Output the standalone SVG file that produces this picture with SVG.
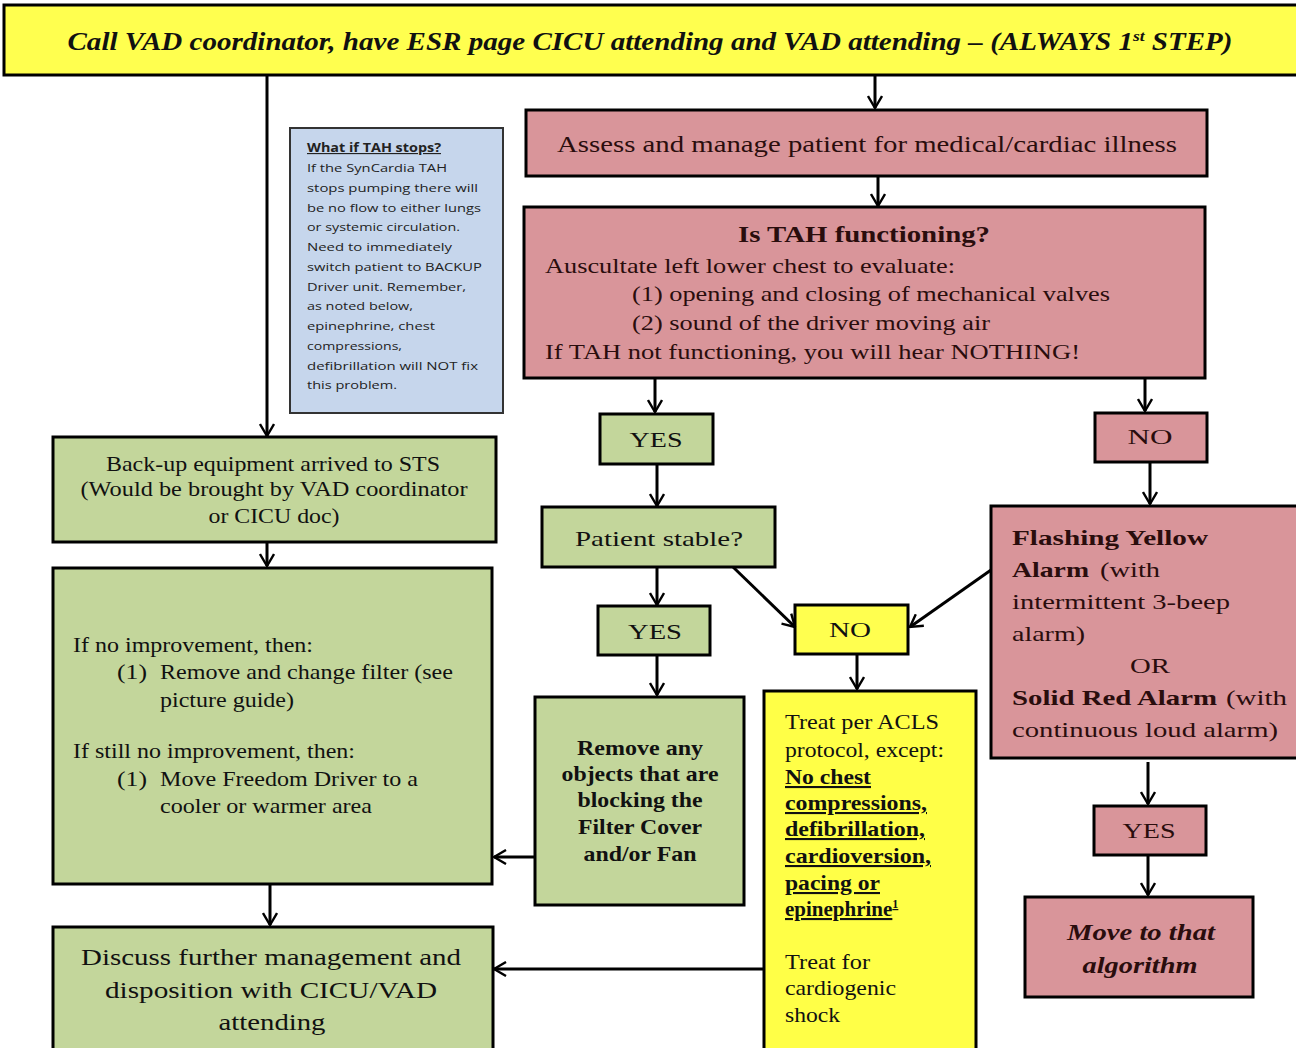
<svg xmlns="http://www.w3.org/2000/svg" width="1296" height="1048" viewBox="0 0 1296 1048">
  <style>
    .box { stroke: #000; stroke-width: 3; }
    .yel { fill: #ffff4f; }
    .pink { fill: #d9959a; }
    .green { fill: #c3d69b; }
    .note { fill: #c6d6ec; stroke: #333; stroke-width: 2; }
    .t { font-family: "Liberation Serif", "Times New Roman", serif; fill: #111; }
    .tp { font-family: "Liberation Serif", "Times New Roman", serif; fill: #2a0d0d; }
    .n { font-family: "Open Sans", "Liberation Sans", sans-serif; font-size: 11.5px; fill: #222; }
    .c { text-anchor: middle; }
    .b { font-weight: bold; }
    .u { text-decoration: underline; }
    .conn { fill: none; stroke: #000; stroke-width: 3; }
  </style>
  <defs>
    <marker id="arr" viewBox="0 0 14 16" refX="13" refY="8" markerWidth="14" markerHeight="16" orient="auto" markerUnits="userSpaceOnUse">
      <path d="M1,1 L13,8 L1,15" fill="none" stroke="#000" stroke-width="2.4"/>
    </marker>
  </defs>
  <rect width="1296" height="1048" fill="#fff"/>

  <!-- first step banner -->
  <g id="call-vad">
    <rect class="box yel" x="4" y="5" width="1300" height="70"/>
    <text class="t b" x="650" y="50" text-anchor="middle" font-style="italic" font-size="25" textLength="1165" lengthAdjust="spacingAndGlyphs">Call VAD coordinator, have ESR page CICU attending and VAD attending – (ALWAYS 1<tspan font-size="15" dy="-9">st</tspan><tspan dy="9"> STEP)</tspan></text>
  </g>

  <!-- side note -->
  <g id="note">
    <rect class="note" x="290" y="128" width="213" height="285"/>
    <text class="n b u" x="307" y="152" textLength="134" lengthAdjust="spacingAndGlyphs">What if TAH stops?</text>
    <text class="n" x="307" y="172" textLength="140" lengthAdjust="spacingAndGlyphs">If the SynCardia TAH</text>
    <text class="n" x="307" y="192" textLength="171" lengthAdjust="spacingAndGlyphs">stops pumping there will</text>
    <text class="n" x="307" y="212" textLength="174" lengthAdjust="spacingAndGlyphs">be no flow to either lungs</text>
    <text class="n" x="307" y="231" textLength="153" lengthAdjust="spacingAndGlyphs">or systemic circulation.</text>
    <text class="n" x="307" y="251" textLength="145" lengthAdjust="spacingAndGlyphs">Need to immediately</text>
    <text class="n" x="307" y="271" textLength="175" lengthAdjust="spacingAndGlyphs">switch patient to BACKUP</text>
    <text class="n" x="307" y="291" textLength="159" lengthAdjust="spacingAndGlyphs">Driver unit. Remember,</text>
    <text class="n" x="307" y="310" textLength="106" lengthAdjust="spacingAndGlyphs">as noted below,</text>
    <text class="n" x="307" y="330" textLength="128" lengthAdjust="spacingAndGlyphs">epinephrine, chest</text>
    <text class="n" x="307" y="350" textLength="95" lengthAdjust="spacingAndGlyphs">compressions,</text>
    <text class="n" x="307" y="370" textLength="171" lengthAdjust="spacingAndGlyphs">defibrillation will NOT fix</text>
    <text class="n" x="307" y="389" textLength="90" lengthAdjust="spacingAndGlyphs">this problem.</text>
  </g>

  <g id="assess">
    <rect class="box pink" x="526" y="110" width="681" height="66"/>
    <text class="tp c" x="867" y="152" font-size="23" textLength="620" lengthAdjust="spacingAndGlyphs">Assess and manage patient for medical/cardiac illness</text>
  </g>

  <g id="tah-check">
    <rect class="box pink" x="524" y="207" width="681" height="171"/>
    <text class="tp c b" x="864" y="242" font-size="24" textLength="252" lengthAdjust="spacingAndGlyphs">Is TAH functioning?</text>
    <text class="tp" x="545" y="273" font-size="21" textLength="410" lengthAdjust="spacingAndGlyphs">Auscultate left lower chest to evaluate:</text>
    <text class="tp" x="632" y="301" font-size="21" textLength="478" lengthAdjust="spacingAndGlyphs">(1) opening and closing of mechanical valves</text>
    <text class="tp" x="632" y="330" font-size="21" textLength="358" lengthAdjust="spacingAndGlyphs">(2) sound of the driver moving air</text>
    <text class="tp" x="545" y="359" font-size="21" textLength="535" lengthAdjust="spacingAndGlyphs">If TAH not functioning, you will hear NOTHING!</text>
  </g>

  <g id="yes-functioning">
    <rect class="box green" x="600" y="414" width="113" height="50"/>
    <text class="t c" x="656" y="447" font-size="22" textLength="53" lengthAdjust="spacingAndGlyphs">YES</text>
  </g>

  <g id="no-functioning">
    <rect class="box pink" x="1095" y="413" width="112" height="49"/>
    <text class="tp c" x="1150" y="444" font-size="22" textLength="45" lengthAdjust="spacingAndGlyphs">NO</text>
  </g>

  <g id="patient-stable">
    <rect class="box green" x="542" y="507" width="233" height="60"/>
    <text class="t c" x="659" y="546" font-size="22" textLength="168" lengthAdjust="spacingAndGlyphs">Patient stable?</text>
  </g>

  <g id="yes-stable">
    <rect class="box green" x="598" y="606" width="112" height="49"/>
    <text class="t c" x="655" y="639" font-size="22" textLength="54" lengthAdjust="spacingAndGlyphs">YES</text>
  </g>

  <g id="no-stable">
    <rect class="box yel" x="795" y="605" width="113" height="49"/>
    <text class="t c" x="850" y="637" font-size="22" textLength="42" lengthAdjust="spacingAndGlyphs">NO</text>
  </g>

  <g id="remove-objects">
    <rect class="box green" x="535" y="697" width="209" height="208"/>
    <text class="t c b" x="640" y="755" font-size="21" textLength="126" lengthAdjust="spacingAndGlyphs">Remove any</text>
    <text class="t c b" x="640" y="781" font-size="21" textLength="157" lengthAdjust="spacingAndGlyphs">objects that are</text>
    <text class="t c b" x="640" y="807" font-size="21" textLength="125" lengthAdjust="spacingAndGlyphs">blocking the</text>
    <text class="t c b" x="640" y="834" font-size="21" textLength="124" lengthAdjust="spacingAndGlyphs">Filter Cover</text>
    <text class="t c b" x="640" y="861" font-size="21" textLength="113" lengthAdjust="spacingAndGlyphs">and/or Fan</text>
  </g>

  <g id="treat-acls">
    <rect class="box" fill="#ffff47" x="764" y="691" width="212" height="360"/>
    <text class="t" x="785" y="729" font-size="21" textLength="154" lengthAdjust="spacingAndGlyphs">Treat per ACLS</text>
    <text class="t" x="785" y="757" font-size="21" textLength="159" lengthAdjust="spacingAndGlyphs">protocol, except:</text>
    <text class="t b u" x="785" y="784" font-size="21" textLength="86" lengthAdjust="spacingAndGlyphs">No chest</text>
    <text class="t b u" x="785" y="810" font-size="21" textLength="142" lengthAdjust="spacingAndGlyphs">compressions,</text>
    <text class="t b u" x="785" y="836" font-size="21" textLength="140" lengthAdjust="spacingAndGlyphs">defibrillation,</text>
    <text class="t b u" x="785" y="863" font-size="21" textLength="146" lengthAdjust="spacingAndGlyphs">cardioversion,</text>
    <text class="t b u" x="785" y="890" font-size="21" textLength="95" lengthAdjust="spacingAndGlyphs">pacing or</text>
    <text class="t b u" x="785" y="916" font-size="21">epinephrine<tspan font-size="12" dy="-8">1</tspan></text>
    <text class="t" x="785" y="969" font-size="21" textLength="85" lengthAdjust="spacingAndGlyphs">Treat for</text>
    <text class="t" x="785" y="995" font-size="21" textLength="111" lengthAdjust="spacingAndGlyphs">cardiogenic</text>
    <text class="t" x="785" y="1022" font-size="21" textLength="55" lengthAdjust="spacingAndGlyphs">shock</text>
  </g>

  <g id="alarm">
    <rect class="box pink" x="991" y="506" width="310" height="252"/>
    <text class="tp b" x="1012" y="545" font-size="22" textLength="196" lengthAdjust="spacingAndGlyphs">Flashing Yellow</text>
    <text class="tp b" x="1012" y="577" font-size="22" textLength="77" lengthAdjust="spacingAndGlyphs">Alarm</text>
    <text class="tp" x="1100" y="577" font-size="22" textLength="60" lengthAdjust="spacingAndGlyphs">(with</text>
    <text class="tp" x="1012" y="609" font-size="22" textLength="218" lengthAdjust="spacingAndGlyphs">intermittent 3-beep</text>
    <text class="tp" x="1012" y="641" font-size="22" textLength="73" lengthAdjust="spacingAndGlyphs">alarm)</text>
    <text class="tp c" x="1150" y="673" font-size="22" textLength="40" lengthAdjust="spacingAndGlyphs">OR</text>
    <text class="tp b" x="1012" y="705" font-size="22" textLength="205" lengthAdjust="spacingAndGlyphs">Solid Red Alarm</text>
    <text class="tp" x="1226" y="705" font-size="22" textLength="61" lengthAdjust="spacingAndGlyphs">(with</text>
    <text class="tp" x="1012" y="737" font-size="22" textLength="266" lengthAdjust="spacingAndGlyphs">continuous loud alarm)</text>
  </g>

  <g id="yes-alarm">
    <rect class="box pink" x="1094" y="806" width="112" height="49"/>
    <text class="tp c" x="1149" y="838" font-size="22" textLength="53" lengthAdjust="spacingAndGlyphs">YES</text>
  </g>

  <g id="move-algorithm">
    <rect class="box pink" x="1025" y="897" width="228" height="100"/>
    <text class="tp c b" x="1141" y="940" font-size="23" font-style="italic" textLength="148" lengthAdjust="spacingAndGlyphs">Move to that</text>
    <text class="tp c b" x="1140" y="973" font-size="23" font-style="italic" textLength="115" lengthAdjust="spacingAndGlyphs">algorithm</text>
  </g>

  <g id="backup-equipment">
    <rect class="box green" x="53" y="437" width="443" height="105"/>
    <text class="t c" x="273" y="471" font-size="21" textLength="334" lengthAdjust="spacingAndGlyphs">Back-up equipment arrived to STS</text>
    <text class="t c" x="274" y="496" font-size="21" textLength="387" lengthAdjust="spacingAndGlyphs">(Would be brought by VAD coordinator</text>
    <text class="t c" x="274" y="523" font-size="21" textLength="131" lengthAdjust="spacingAndGlyphs">or CICU doc)</text>
  </g>

  <g id="filter-driver">
    <rect class="box green" x="53" y="568" width="439" height="316"/>
    <text class="t" x="73" y="652" font-size="21" textLength="240" lengthAdjust="spacingAndGlyphs">If no improvement, then:</text>
    <text class="t" x="117" y="679" font-size="21" textLength="30" lengthAdjust="spacingAndGlyphs">(1)</text>
    <text class="t" x="160" y="679" font-size="21" textLength="293" lengthAdjust="spacingAndGlyphs">Remove and change filter (see</text>
    <text class="t" x="160" y="707" font-size="21" textLength="134" lengthAdjust="spacingAndGlyphs">picture guide)</text>
    <text class="t" x="73" y="758" font-size="21" textLength="282" lengthAdjust="spacingAndGlyphs">If still no improvement, then:</text>
    <text class="t" x="117" y="786" font-size="21" textLength="30" lengthAdjust="spacingAndGlyphs">(1)</text>
    <text class="t" x="160" y="786" font-size="21" textLength="258" lengthAdjust="spacingAndGlyphs">Move Freedom Driver to a</text>
    <text class="t" x="160" y="813" font-size="21" textLength="212" lengthAdjust="spacingAndGlyphs">cooler or warmer area</text>
  </g>

  <g id="discuss">
    <rect class="box green" x="53" y="927" width="440" height="125"/>
    <text class="t c" x="271" y="965" font-size="24" textLength="380" lengthAdjust="spacingAndGlyphs">Discuss further management and</text>
    <text class="t c" x="271" y="998" font-size="24" textLength="332" lengthAdjust="spacingAndGlyphs">disposition with CICU/VAD</text>
    <text class="t c" x="272" y="1030" font-size="24" textLength="107" lengthAdjust="spacingAndGlyphs">attending</text>
  </g>

  <!-- connectors -->
  <g id="connectors" class="conn">
    <path class="conn" d="M267,75 V436" marker-end="url(#arr)"/>
    <path class="conn" d="M875,75 V108" marker-end="url(#arr)"/>
    <path class="conn" d="M878,176 V206" marker-end="url(#arr)"/>
    <path class="conn" d="M655,378 V412" marker-end="url(#arr)"/>
    <path class="conn" d="M1145,378 V411" marker-end="url(#arr)"/>
    <path class="conn" d="M657,464 V506" marker-end="url(#arr)"/>
    <path class="conn" d="M1150,462 V504" marker-end="url(#arr)"/>
    <path class="conn" d="M657,567 V605" marker-end="url(#arr)"/>
    <path class="conn" d="M657,655 V695" marker-end="url(#arr)"/>
    <path class="conn" d="M733,567 L795,627" marker-end="url(#arr)"/>
    <path class="conn" d="M991,570 L910,627" marker-end="url(#arr)"/>
    <path class="conn" d="M857,654 V689" marker-end="url(#arr)"/>
    <path class="conn" d="M1148,762 V804" marker-end="url(#arr)"/>
    <path class="conn" d="M1148,855 V895" marker-end="url(#arr)"/>
    <path class="conn" d="M267,542 V566" marker-end="url(#arr)"/>
    <path class="conn" d="M535,857 H494" marker-end="url(#arr)"/>
    <path class="conn" d="M270,884 V925" marker-end="url(#arr)"/>
    <path class="conn" d="M764,969 H494" marker-end="url(#arr)"/>
  </g>
</svg>
